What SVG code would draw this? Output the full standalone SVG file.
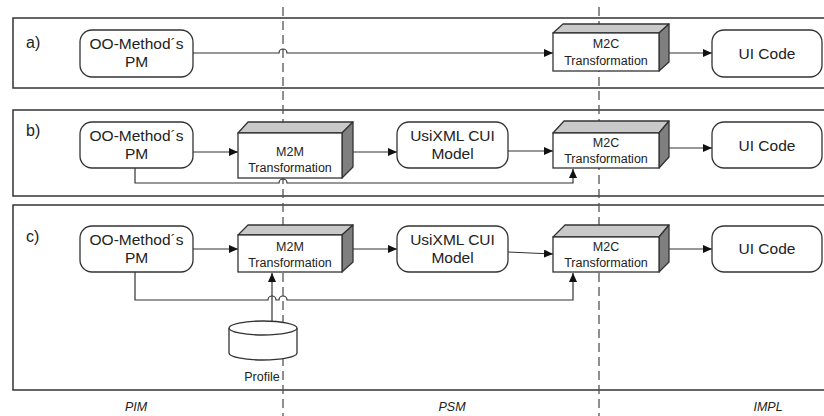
<svg xmlns="http://www.w3.org/2000/svg" width="824" height="416" viewBox="0 0 824 416">
<defs>
<style>
.panel{fill:none;stroke:#333;stroke-width:1.5}
.div{fill:none;stroke:#555;stroke-width:1.3;stroke-dasharray:9,5}
.rn{fill:#fff;stroke:#333;stroke-width:1.3}
.front{fill:#fff;stroke:#333;stroke-width:1.3}
.top{fill:#c9c9c9;stroke:#333;stroke-width:1.3;stroke-linejoin:round}
.side{fill:#7f7f7f;stroke:#333;stroke-width:1.3;stroke-linejoin:round}
.cn{fill:none;stroke:#333;stroke-width:1.2}
.big{font-family:"Liberation Sans",Arial,sans-serif;font-size:15.5px;fill:#222;text-anchor:middle}
.sm{font-family:"Liberation Sans",Arial,sans-serif;font-size:12.5px;fill:#222;text-anchor:middle}
.lbl{font-family:"Liberation Sans",Arial,sans-serif;font-size:16px;fill:#222}
.lay{font-family:"Liberation Sans",Arial,sans-serif;font-size:12.5px;font-style:italic;fill:#222;text-anchor:middle}
.cyl{fill:#fff;stroke:#333;stroke-width:1.3}
</style>
<marker id="ah" markerUnits="userSpaceOnUse" markerWidth="10" markerHeight="8" refX="9" refY="4" orient="auto">
<path d="M0,0 L9,4 L0,8 Z" fill="#111"/>
</marker>
</defs>
<rect width="824" height="416" fill="#fff"/>

<g id="panels">
<rect class="panel" x="13" y="18" width="830" height="70"/>
<rect class="panel" x="13" y="110" width="830" height="86"/>
<rect class="panel" x="13" y="205" width="830" height="185"/>
<text class="lbl" x="26" y="48">a)</text>
<text class="lbl" x="26" y="136">b)</text>
<text class="lbl" x="26" y="242">c)</text>
</g>

<g id="dividers">
<line class="div" x1="283" y1="7" x2="283" y2="416"/>
<line class="div" x1="599" y1="7" x2="599" y2="416"/>
</g>

<g id="layers">
<text class="lay" x="136" y="411">PIM</text>
<text class="lay" x="452" y="411">PSM</text>
<text class="lay" x="768" y="411">IMPL</text>
</g>

<g id="connectors">
<path class="cn" d="M193,53 H279 a4,4 0 0 1 8,0 H553" marker-end="url(#ah)"/>
<path class="cn" d="M669,53 H712" marker-end="url(#ah)"/>

<path class="cn" d="M193,152 H238" marker-end="url(#ah)"/>
<path class="cn" d="M353,152 H397" marker-end="url(#ah)"/>
<path class="cn" d="M508,151 H553" marker-end="url(#ah)"/>
<path class="cn" d="M669,148 H712" marker-end="url(#ah)"/>
<path class="cn" d="M135,168 V183 H279 a4,4 0 0 1 8,0 H573 V169" marker-end="url(#ah)"/>

<path class="cn" d="M193,249 H238" marker-end="url(#ah)"/>
<path class="cn" d="M353,249 H397" marker-end="url(#ah)"/>
<path class="cn" d="M508,252 L553,254" marker-end="url(#ah)"/>
<path class="cn" d="M669,249 H712" marker-end="url(#ah)"/>
<path class="cn" d="M135,272 V300 H268 a4,4 0 0 1 8,0 H279 a4,4 0 0 1 8,0 H573 V273" marker-end="url(#ah)"/>
<path class="cn" d="M272,321 V273" marker-end="url(#ah)"/>
</g>

<!-- panel a -->
<g id="a-pm">
<rect class="rn" x="80" y="30" width="113" height="47" rx="12"/>
<text class="big" x="136.5" y="49">OO-Method´s</text>
<text class="big" x="136.5" y="67">PM</text>
</g>
<g id="a-m2c">
<path class="top" d="M553,33 L563,24 H669 L659,33 Z"/>
<path class="side" d="M659,33 L669,24 V62 L659,71 Z"/>
<rect class="front" x="553" y="33" width="106" height="38"/>
<text class="sm" x="606" y="48">M2C</text>
<text class="sm" x="606" y="65">Transformation</text>
</g>
<g id="a-ui">
<rect class="rn" x="712" y="30" width="110" height="47" rx="12"/>
<text class="big" x="767" y="59">UI Code</text>
</g>

<!-- panel b -->
<g id="b-pm">
<rect class="rn" x="80" y="122" width="113" height="46" rx="12"/>
<text class="big" x="136.5" y="141">OO-Method´s</text>
<text class="big" x="136.5" y="159">PM</text>
</g>
<g id="b-m2m">
<path class="top" d="M238,133 L248,122 H353 L342,133 Z"/>
<path class="side" d="M342,133 L353,122 V167 L342,178 Z"/>
<rect class="front" x="238" y="133" width="104" height="45"/>
<text class="sm" x="290" y="156">M2M</text>
<text class="sm" x="290" y="172">Transformation</text>
</g>
<g id="b-usi">
<rect class="rn" x="397" y="122" width="111" height="46" rx="12"/>
<text class="big" x="452.5" y="141">UsiXML CUI</text>
<text class="big" x="452.5" y="159">Model</text>
</g>
<g id="b-m2c">
<path class="top" d="M553,133 L564,121 H669 L659,133 Z"/>
<path class="side" d="M659,133 L669,121 V157 L659,168 Z"/>
<rect class="front" x="553" y="133" width="106" height="35"/>
<text class="sm" x="606" y="147">M2C</text>
<text class="sm" x="606" y="163">Transformation</text>
</g>
<g id="b-ui">
<rect class="rn" x="712" y="122" width="110" height="46" rx="12"/>
<text class="big" x="767" y="151">UI Code</text>
</g>

<!-- panel c -->
<g id="c-pm">
<rect class="rn" x="80" y="226" width="113" height="46" rx="12"/>
<text class="big" x="136.5" y="245">OO-Method´s</text>
<text class="big" x="136.5" y="263">PM</text>
</g>
<g id="c-m2m">
<path class="top" d="M238,235 L248,225 H353 L342,235 Z"/>
<path class="side" d="M342,235 L353,225 V262 L342,272 Z"/>
<rect class="front" x="238" y="235" width="104" height="37"/>
<text class="sm" x="290" y="251">M2M</text>
<text class="sm" x="290" y="267">Transformation</text>
</g>
<g id="c-usi">
<rect class="rn" x="397" y="226" width="111" height="46" rx="12"/>
<text class="big" x="452.5" y="245">UsiXML CUI</text>
<text class="big" x="452.5" y="263">Model</text>
</g>
<g id="c-m2c">
<path class="top" d="M553,237 L565,225 H669 L659,237 Z"/>
<path class="side" d="M659,237 L669,225 V262 L659,272 Z"/>
<rect class="front" x="553" y="237" width="106" height="35"/>
<text class="sm" x="606" y="251">M2C</text>
<text class="sm" x="606" y="267">Transformation</text>
</g>
<g id="c-ui">
<rect class="rn" x="712" y="226" width="110" height="46" rx="12"/>
<text class="big" x="767" y="254">UI Code</text>
</g>
<g id="c-profile">
<path class="cyl" d="M229,328 V353 A34,7 0 0 0 297,353 V328"/>
<ellipse class="cyl" cx="263" cy="328" rx="34" ry="7"/>
<text class="sm" x="262" y="381">Profile</text>
</g>
</svg>
